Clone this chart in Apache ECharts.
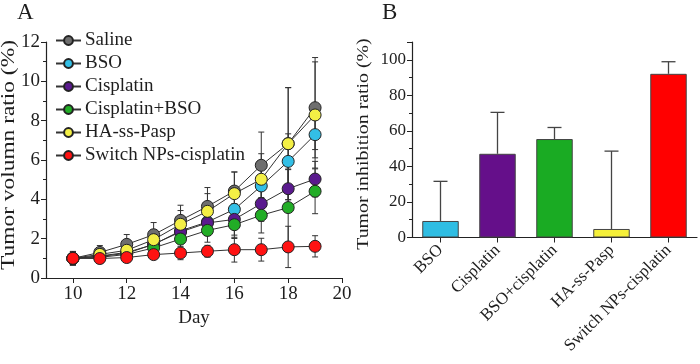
<!DOCTYPE html>
<html><head><meta charset="utf-8">
<script src="https://cdn.jsdelivr.net/npm/echarts@6/dist/echarts.min.js"></script>
<style>html,body{margin:0;padding:0;background:#fff}#c{width:700px;height:364px}</style>
</head><body><div id="c"></div>
<script>
// ---- Panel A data ----
const days = [10, 11, 12, 13, 14, 15, 16, 17, 18, 19];
const xTicksA = [10, 12, 14, 16, 18, 20];
const seriesNames = ['Saline', 'BSO', 'Cisplatin', 'Cisplatin+BSO', 'HA-ss-Pasp', 'Switch NPs-cisplatin'];
const saline    = [1.0, 1.30, 1.71, 2.20, 2.93, 3.64, 4.42, 5.73, 6.83, 8.66];
const bso       = [1.0, 1.12, 1.30, 1.70, 2.40, 2.85, 3.49, 4.68, 5.93, 7.29];
const cisplatin = [1.0, 1.10, 1.25, 1.72, 2.34, 2.80, 2.98, 3.78, 4.54, 5.03];
const cisBso    = [1.0, 1.05, 1.20, 1.53, 1.98, 2.42, 2.71, 3.19, 3.58, 4.41];
const haSsPasp  = [1.0, 1.20, 1.41, 1.95, 2.73, 3.39, 4.29, 5.02, 6.83, 8.29];
const switchNP  = [1.0, 0.99, 1.04, 1.19, 1.27, 1.36, 1.44, 1.44, 1.58, 1.61];
const salineErr    = [0.35, 0.35, 0.50, 0.62, 0.77, 0.96, 0.97, 1.69, 2.85, 2.55];
const bsoErr       = [0.30, 0.30, 0.35, 0.45, 0.60, 0.70, 0.80, 1.00, 1.40, 0.76];
const cisplatinErr = [0.30, 0.30, 0.35, 0.45, 0.60, 0.60, 0.80, 0.90, 1.00, 0.90];
const cisBsoErr    = [0.30, 0.25, 0.30, 0.40, 0.50, 0.60, 0.70, 0.90, 1.93, 1.14];
const haSsPaspErr  = [0.30, 0.30, 0.40, 0.50, 0.70, 0.90, 1.10, 1.30, 2.85, 2.70];
const switchNPErr  = [0.35, 0.25, 0.20, 0.20, 0.34, 0.30, 0.63, 0.58, 1.05, 0.54];

// ---- Panel B data ----
const barCats = ['BSO', 'Cisplatin', 'BSO+cisplatin', 'HA-ss-Pasp', 'Switch NPs-cisplatin'];
const barVals = [9.3, 47.1, 55.4, 4.8, 92.1];
const barErr  = [22.3, 23.3, 6.5, 43.8, 6.8];

const yNameA = 'Tumor volumn ratio (%)';
const yNameB = 'Tumor inhibition ratio (%)';
const xNameA = 'Day';

const lineColors = ['#6e6e6e', '#33bfe6', '#5a1a8e', '#22ad26', '#f3ef45', '#ff1212'];
const barColors  = ['#2fbde3', '#650f8a', '#1aab23', '#f5f03a', '#ff0000'];
const allVals = [saline, bso, cisplatin, cisBso, haSsPasp, switchNP];
const allErrs = [salineErr, bsoErr, cisplatinErr, cisBsoErr, haSsPaspErr, switchNPErr];

const FONTFAM = '"Liberation Serif", "Times New Roman", serif';
const TXT = '#1e1e1e';

function errRenderA(params, api) {
  const x = api.value(0), y = api.value(1), e = api.value(2);
  const top = api.coord([x, y + e]);
  const bot = api.coord([x, Math.max(0, y - e)]);
  const hw = 3;
  const st = { stroke: '#333', lineWidth: 1 };
  return { type: 'group', children: [
    { type: 'line', shape: { x1: top[0], y1: top[1], x2: bot[0], y2: bot[1] }, style: st },
    { type: 'line', shape: { x1: top[0] - hw, y1: top[1], x2: top[0] + hw, y2: top[1] }, style: st },
    { type: 'line', shape: { x1: bot[0] - hw, y1: bot[1], x2: bot[0] + hw, y2: bot[1] }, style: st }
  ]};
}
function errRenderB(params, api) {
  const x = api.value(0), y = api.value(1), e = api.value(2);
  const base = api.coord([x, y]);
  const top = api.coord([x, y + e]);
  const hw = 7;
  const st = { stroke: '#444', lineWidth: 1.3 };
  return { type: 'group', children: [
    { type: 'line', shape: { x1: base[0], y1: base[1], x2: top[0], y2: top[1] }, style: st },
    { type: 'line', shape: { x1: top[0] - hw, y1: top[1], x2: top[0] + hw, y2: top[1] }, style: st }
  ]};
}

const series = [];
seriesNames.forEach((n, i) => {
  series.push({
    type: 'custom', xAxisIndex: 0, yAxisIndex: 0, z: 1, silent: true,
    renderItem: errRenderA,
    data: days.map((d, k) => [d, allVals[i][k], allErrs[i][k]])
  });
});
seriesNames.forEach((n, i) => {
  series.push({
    name: n, type: 'line', xAxisIndex: 0, yAxisIndex: 0, z: 3 + i,
    symbol: 'circle', symbolSize: 12,
    itemStyle: { color: lineColors[i], borderColor: '#222', borderWidth: 1 },
    lineStyle: { color: '#333', width: 1 },
    data: days.map((d, k) => [d, allVals[i][k]])
  });
});
series.push({
  type: 'bar', xAxisIndex: 1, yAxisIndex: 1, barWidth: '64%', z: 3,
  data: barVals.map((v, i) => ({ value: v, itemStyle: { color: barColors[i], borderColor: '#444', borderWidth: 1 } }))
});
series.push({
  type: 'custom', xAxisIndex: 1, yAxisIndex: 1, z: 2, silent: true,
  renderItem: errRenderB,
  data: barVals.map((v, i) => [i, v, barErr[i]])
});

const option = {
  animation: false,
  backgroundColor: '#fff',
  textStyle: { fontFamily: FONTFAM, color: TXT },
  title: [
    { text: 'A', left: 12, top: -4, textStyle: { fontFamily: FONTFAM, fontSize: 23, fontWeight: 'normal', color: TXT } },
    { text: 'B', left: 377, top: -4, textStyle: { fontFamily: FONTFAM, fontSize: 23, fontWeight: 'normal', color: TXT } }
  ],
  graphic: [
    { type: 'text', x: 9, y: 155, rotation: Math.PI / 2, scaleX: 1.3,
      style: { text: yNameA, fontFamily: FONTFAM, fontSize: 18, fill: TXT, align: 'center', verticalAlign: 'middle', textAlign: 'center', textVerticalAlign: 'middle' } },
    { type: 'text', x: 364, y: 144, rotation: Math.PI / 2, scaleX: 1.24,
      style: { text: yNameB, fontFamily: FONTFAM, fontSize: 16, fill: TXT, align: 'center', verticalAlign: 'middle', textAlign: 'center', textVerticalAlign: 'middle' } }
  ],
  legend: {
    data: seriesNames, orient: 'vertical', left: 50, top: 26,
    itemWidth: 25, itemHeight: 11, itemGap: 4,
    textStyle: { fontFamily: FONTFAM, fontSize: 19, color: TXT, padding: [0, 0, 0, -1] }
  },
  grid: [
    { left: 46, top: 42, width: 296, height: 236 },
    { left: 412, top: 42, width: 285, height: 195.5 }
  ],
  xAxis: [
    {
      type: 'value', gridIndex: 0, min: 9, max: 20,
      name: xNameA, nameLocation: 'middle', nameGap: 30,
      nameTextStyle: { fontFamily: FONTFAM, fontSize: 19, color: TXT },
      axisLine: { lineStyle: { color: '#222', width: 1.2 } },
      axisTick: { show: true, length: 5, customValues: xTicksA, lineStyle: { color: '#222' } },
      axisLabel: { customValues: xTicksA, fontFamily: FONTFAM, fontSize: 19, color: TXT, margin: 7 },
      splitLine: { show: false }
    },
    {
      type: 'category', gridIndex: 1, data: barCats,
      axisLine: { lineStyle: { color: '#222', width: 1.2 } },
      axisTick: { show: true, alignWithLabel: true, length: 5, lineStyle: { color: '#222' } },
      axisLabel: { rotate: 45, fontFamily: FONTFAM, fontSize: 17, color: TXT, margin: 10, interval: 0 }
    }
  ],
  yAxis: [
    {
      type: 'value', gridIndex: 0, min: 0, max: 12, interval: 2,
      axisLine: { show: true, lineStyle: { color: '#222', width: 1.2 } },
      axisTick: { show: true, length: 5, lineStyle: { color: '#222' } },
      minorTick: { show: true, splitNumber: 2, length: 3, lineStyle: { color: '#222' } },
      axisLabel: { fontFamily: FONTFAM, fontSize: 19, color: TXT, margin: 6 },
      splitLine: { show: false }
    },
    {
      type: 'value', gridIndex: 1, min: 0, max: 110, interval: 20,
      axisLine: { show: true, lineStyle: { color: '#222', width: 1.2 } },
      axisTick: { show: true, length: 5, lineStyle: { color: '#222' } },
      minorTick: { show: true, splitNumber: 2, length: 3, lineStyle: { color: '#222' } },
      axisLabel: { fontFamily: FONTFAM, fontSize: 17, color: TXT, margin: 6,
        formatter: v => (v > 100 ? '' : v) },
      splitLine: { show: false }
    }
  ],
  series: series
};
const chart = echarts.init(document.getElementById('c'), null, { renderer: 'canvas' });
chart.setOption(option);
</script>
</body></html>
